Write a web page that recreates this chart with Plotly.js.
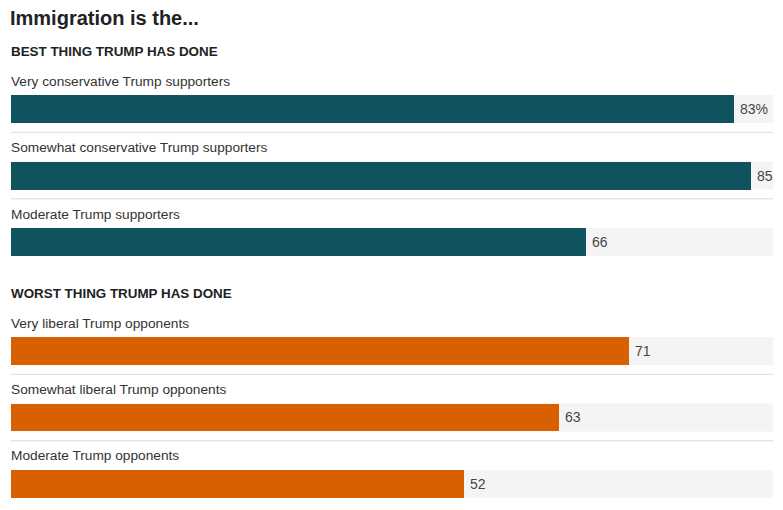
<!DOCTYPE html>
<html>
<head>
<meta charset="utf-8">
<script src="https://cdn.plot.ly/plotly-3.0.1.min.js"></script>
<style>html,body{margin:0;padding:0;background:#fff;}#chart{width:783px;height:510px;}</style>
</head>
<body>
<div id="chart"></div>
<script>
const chartTitle = "Immigration is the...";
const bestHeader = "BEST THING TRUMP HAS DONE";
const worstHeader = "WORST THING TRUMP HAS DONE";
const bestCategories = ["Very conservative Trump supporters", "Somewhat conservative Trump supporters", "Moderate Trump supporters"];
const bestValues = [83, 85, 66];
const worstCategories = ["Very liberal Trump opponents", "Somewhat liberal Trump opponents", "Moderate Trump opponents"];
const worstValues = [71, 63, 52];

const FONT = "Liberation Sans, Arial, Helvetica, sans-serif";
const TEAL = "#0e535d";
const ORANGE = "#d86000";
const BG = "#f4f4f4";
const SEP = "#dadada";
const BAR_W = 0.42;

const traces = [
  { type: "bar", orientation: "h", y: bestCategories, x: bestValues, xaxis: "x", yaxis: "y",
    marker: { color: TEAL }, width: BAR_W, hoverinfo: "none" },
  { type: "bar", orientation: "h", y: worstCategories, x: worstValues, xaxis: "x", yaxis: "y2",
    marker: { color: ORANGE }, width: BAR_W, hoverinfo: "none" }
];

const shapes = [];
const annotations = [];
function addGroup(cats, vals, yref, firstPct) {
  cats.forEach((c, i) => {
    shapes.push({ type: "rect", layer: "below", xref: "paper", x0: 0, x1: 1, yref: yref,
      y0: i - BAR_W / 2, y1: i + BAR_W / 2, fillcolor: BG, line: { width: 0 } });
    if (i < cats.length - 1) {
      shapes.push({ type: "line", layer: "below", xref: "paper", x0: 0, x1: 1, yref: yref,
        y0: i + 0.35, y1: i + 0.35, line: { color: SEP, width: 1 } });
    }
    annotations.push({ xref: "paper", x: 0, xanchor: "left", xshift: -2, yref: yref, y: c, yshift: 28,
      yanchor: "middle", text: c, showarrow: false, font: { family: FONT, size: 13.7, color: "#333" } });
    const label = (firstPct && i === 0) ? vals[i] + "%" : String(vals[i]);
    annotations.push({ xref: "x", x: vals[i], xanchor: "left", xshift: 4, yref: yref, y: c,
      yanchor: "middle", text: label, showarrow: false, font: { family: FONT, size: 14, color: "#444" } });
  });
}
addGroup(bestCategories, bestValues, "y", true);
addGroup(worstCategories, worstValues, "y2", false);

annotations.push({ xref: "paper", x: 0, xanchor: "left", xshift: -2, yref: "paper", y: 1 - 52 / 510, yanchor: "middle",
  text: "<b>" + bestHeader + "</b>", showarrow: false, font: { family: FONT, size: 13.4, color: "#222" } });
annotations.push({ xref: "paper", x: 0, xanchor: "left", xshift: -2, yref: "paper", y: 1 - 293 / 510, yanchor: "middle",
  text: "<b>" + worstHeader + "</b>", showarrow: false, font: { family: FONT, size: 13.4, color: "#222" } });

const yCommon = { type: "category", showticklabels: false, showgrid: false, zeroline: false,
  showline: false, ticks: "", fixedrange: true };

const layout = {
  width: 783, height: 510,
  margin: { l: 11, r: 10, t: 0, b: 0, pad: 0 },
  paper_bgcolor: "#fff", plot_bgcolor: "rgba(0,0,0,0)",
  showlegend: false,
  title: { text: "<b>" + chartTitle + "</b>", x: 10 / 783, xanchor: "left", xref: "container",
    y: 1 - 18 / 510, yanchor: "middle", yref: "container", font: { family: FONT, size: 20, color: "#222" } },
  xaxis: { range: [0, 87.53], showticklabels: false, showgrid: false, zeroline: false, showline: false,
    ticks: "", fixedrange: true, domain: [0, 1] },
  yaxis: Object.assign({}, yCommon, { domain: [1 - 270 / 510, 1 - 80 / 510], range: [2.42, -0.436],
    categoryorder: "array", categoryarray: bestCategories }),
  yaxis2: Object.assign({}, yCommon, { anchor: "x", domain: [1 - 505 / 510, 1 - 300 / 510], range: [2.316, -0.767],
    categoryorder: "array", categoryarray: worstCategories }),
  shapes: shapes,
  annotations: annotations,
  bargap: 0
};

Plotly.newPlot("chart", traces, layout, { displayModeBar: false, staticPlot: true });
</script>
</body>
</html>
